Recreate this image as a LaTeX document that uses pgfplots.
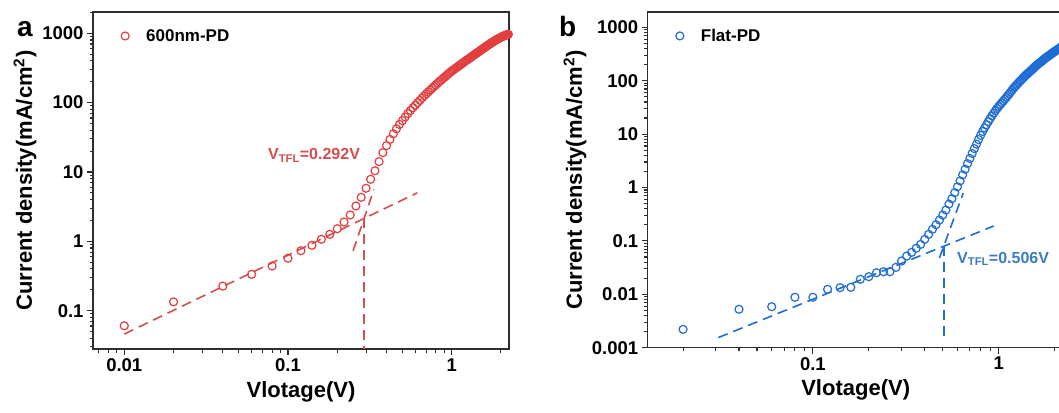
\documentclass[border=0pt]{standalone}
\usepackage{fontspec}
\setmainfont{Liberation Sans}
\usepackage{pgfplots}
\usepackage{pgfplotstable}
\pgfplotsset{compat=1.18}
\definecolor{cred}{RGB}{226,62,62}
\definecolor{credl}{RGB}{212,78,78}
\definecolor{cblue}{RGB}{30,108,212}
\definecolor{cbluet}{RGB}{58,124,196}
\definecolor{axgray}{RGB}{45,45,45}

\pgfplotstableread{
V J
0.01 0.0605
0.02 0.134
0.04 0.226
0.06 0.334
0.08 0.44
0.10 0.569
0.12 0.732
0.14 0.875
0.16 1.07
0.18 1.26
0.20 1.52
0.22 1.90
0.24 2.40
0.26 3.23
0.28 4.31
0.30 5.82
0.32 7.85
0.34 10.4
0.36 14.1
0.38 19.0
0.40 24.0
0.42 29.5
0.44 35.5
0.46 42
0.48 48.5
0.50 55
0.52 62
0.54 69.5
0.56 77
0.58 84.5
0.60 92
0.62 100
0.64 108
0.66 117
0.68 125.5
0.70 134
0.72 143
0.74 152
0.76 161.5
0.78 171
0.80 180
0.82 190
0.84 200
0.86 210
0.88 220
0.90 230
0.92 241
0.94 252
0.96 263
0.98 274
1.00 285
1.02 295
1.04 305
1.06 315
1.08 325
1.10 335
1.12 346
1.14 357
1.16 368
1.18 379
1.20 390
1.22 401
1.24 412
1.26 423
1.28 434
1.30 445
1.32 457
1.34 469
1.36 481
1.38 493
1.40 505
1.42 517
1.44 529
1.46 541
1.48 553
1.50 565
1.52 578
1.54 591
1.56 604
1.58 617
1.60 630
1.62 643
1.64 656
1.66 669
1.68 682
1.70 695
1.72 708
1.74 721
1.76 734
1.78 747
1.80 760
1.82 772
1.84 784
1.86 796
1.88 808
1.90 820
1.92 831
1.94 842
1.96 853
1.98 864
2.00 875
2.02 885
2.04 895
2.06 905
2.08 915
2.10 925
2.12 932
2.14 939
2.16 946
2.18 953
2.20 960
2.22 965
}\dataA

\pgfplotstableread{
V J
0.02 0.00221
0.04 0.00524
0.06 0.00586
0.08 0.00879
0.10 0.0088
0.12 0.0124
0.14 0.0133
0.16 0.0135
0.18 0.0191
0.20 0.0214
0.22 0.0254
0.24 0.0265
0.26 0.0265
0.28 0.032
0.30 0.042
0.32 0.052
0.34 0.061
0.36 0.0727
0.38 0.086
0.40 0.107
0.42 0.133
0.44 0.165
0.46 0.201
0.48 0.246
0.50 0.305
0.52 0.379
0.54 0.49
0.56 0.617
0.58 0.80
0.60 1.03
0.62 1.33
0.64 1.72
0.66 2.2
0.68 2.8
0.70 3.5
0.72 4.35
0.74 5.35
0.76 6.5
0.78 7.9
0.80 9.5
0.82 11.2
0.84 13.0
0.86 15.0
0.88 17.2
0.90 19.5
0.92 22
0.94 24.6
0.96 27.3
0.98 30.1
1.00 33
1.02 35.7
1.04 38.6
1.06 41.7
1.08 45.1
1.10 48.7
1.12 52.6
1.14 56.8
1.16 61.4
1.18 66.4
1.20 72
1.22 76.5
1.24 81.3
1.26 86.3
1.28 91.6
1.30 97.1
1.32 102.7
1.34 108.6
1.36 114.6
1.38 120.8
1.40 127
1.42 132.5
1.44 138.3
1.46 144.4
1.48 150.7
1.50 157.3
1.52 164.2
1.54 171.3
1.56 178.8
1.58 186.6
1.60 195
1.62 201.6
1.64 208.3
1.66 215.3
1.68 222.6
1.70 230
1.72 237.7
1.74 245.7
1.76 254
1.78 262.5
1.80 271
1.82 278
1.84 285.6
1.86 293.2
1.88 301
1.90 309
1.92 317.3
1.94 325.8
1.96 334.5
1.98 343.4
2.00 352.6
2.02 360
2.04 368
2.06 376
2.08 385
2.10 393
2.12 402
2.14 411
2.16 420
2.18 429
2.20 438
2.22 448
2.24 458
}\dataB

\begin{document}
\begin{tikzpicture}
\useasboundingbox (0pt,0pt) rectangle (1059pt,412pt);

\begin{axis}[
  scale only axis,
  xmode=log, ymode=log,
  tick align=outside,
  tick pos=left,
  major tick length=6pt,
  minor tick length=3.5pt,
  every tick/.style={line width=1.1pt, axgray},
  axis line style={line width=1.4pt, axgray},
  ticklabel style={font=\fontsize{18.5}{20}\selectfont\bfseries},
  xlabel={Vlotage(V)},
  ylabel={Current density(mA/cm\textsuperscript{2})},
  label style={font=\fontsize{22}{24}\selectfont\bfseries},
  at={(93pt,63pt)}, anchor=south west,
  width=416pt, height=337pt,
  xmin=0.00644, xmax=2.24, ymin=0.028, ymax=2027,
  xtick={0.01,0.1,1}, xticklabels={0.01,0.1,1},
  minor xtick={0.007,0.008,0.009,0.02,0.03,0.04,0.05,0.06,0.07,0.08,0.09,0.2,0.3,0.4,0.5,0.6,0.7,0.8,0.9,2},
  ytick={0.1,1,10,100,1000}, yticklabels={0.1,1,10,100,1000},
  minor ytick={0.03,0.04,0.05,0.06,0.07,0.08,0.09,0.2,0.3,0.4,0.5,0.6,0.7,0.8,0.9,2,3,4,5,6,7,8,9,20,30,40,50,60,70,80,90,200,300,400,500,600,700,800,900,2000},
  x label style={at={(axis description cs:0.5,-0.1276)}, anchor=center},
  y label style={at={(axis description cs:-0.1635,0.5)}, anchor=center},
  legend style={draw=none, fill=none, at={(axis description cs:0.06,0.9288)}, anchor=west,
    column sep=15pt, font=\fontsize{17}{19}\selectfont\bfseries},
]
\addplot[only marks, mark=o, mark size=4pt, mark options={line width=1.2pt}, color=cred] table[x=V,y=J] {\dataA};
\addlegendentry{600nm-PD}
\addplot[credl, line width=1.6pt, dash pattern=on 10pt off 6pt, forget plot] coordinates {(0.01,0.046) (0.616,5.0)};
\addplot[credl, line width=1.6pt, dash pattern=on 10pt off 6pt, forget plot] coordinates {(0.25,0.73) (0.335,5.6)};
\addplot[credl, line width=1.6pt, dash pattern=on 10pt off 6pt, forget plot] coordinates {(0.292,2.14) (0.292,0.028)};
\node[anchor=base west, text=credl, font=\fontsize{16}{18}\selectfont\bfseries, inner sep=0pt] at (axis cs:0.0755,14.9) {V\textsubscript{TFL}=0.292V};
\end{axis}

\begin{axis}[
  scale only axis,
  xmode=log, ymode=log,
  tick align=outside,
  tick pos=left,
  major tick length=6pt,
  minor tick length=3.5pt,
  every tick/.style={line width=1.1pt, axgray},
  axis line style={line width=1.4pt, axgray},
  ticklabel style={font=\fontsize{18.5}{20}\selectfont\bfseries},
  xlabel={Vlotage(V)},
  ylabel={Current density(mA/cm\textsuperscript{2})},
  label style={font=\fontsize{22}{24}\selectfont\bfseries},
  at={(647.7pt,64.3pt)}, anchor=south west,
  width=416pt, height=335.7pt,
  xmin=0.0129, xmax=2.24, ymin=0.001, ymax=1936,
  xtick={0.1,1}, xticklabels={0.1,1},
  minor xtick={0.02,0.03,0.04,0.05,0.06,0.07,0.08,0.09,0.2,0.3,0.4,0.5,0.6,0.7,0.8,0.9,2},
  ytick={0.001,0.01,0.1,1,10,100,1000}, yticklabels={0.001,0.01,0.1,1,10,100,1000},
  minor ytick={0.002,0.003,0.004,0.005,0.006,0.007,0.008,0.009,0.02,0.03,0.04,0.05,0.06,0.07,0.08,0.09,0.2,0.3,0.4,0.5,0.6,0.7,0.8,0.9,2,3,4,5,6,7,8,9,20,30,40,50,60,70,80,90,200,300,400,500,600,700,800,900},
  x label style={at={(axis description cs:0.5,-0.126)}, anchor=center},
  y label style={at={(axis description cs:-0.1748,0.5)}, anchor=center},
  legend style={draw=none, fill=none, at={(axis description cs:0.06,0.9288)}, anchor=west,
    column sep=15pt, font=\fontsize{17}{19}\selectfont\bfseries},
]
\addplot[only marks, mark=o, mark size=4pt, mark options={line width=1.2pt}, color=cblue] table[x=V,y=J] {\dataB};
\addlegendentry{Flat-PD}
\addplot[cblue, line width=1.6pt, dash pattern=on 10pt off 6pt, forget plot] coordinates {(0.031,0.00155) (0.94,0.19)};
\addplot[cblue, line width=1.6pt, dash pattern=on 10pt off 6pt, forget plot] coordinates {(0.48,0.048) (0.645,0.79)};
\addplot[cblue, line width=1.6pt, dash pattern=on 10pt off 6pt, forget plot] coordinates {(0.506,0.079) (0.506,0.0016)};
\node[anchor=base west, text=cbluet, font=\fontsize{16}{18}\selectfont\bfseries, inner sep=0pt] at (axis cs:0.597,0.038) {V\textsubscript{TFL}=0.506V};
\end{axis}

\node[anchor=base west, inner sep=0pt, font=\fontsize{28}{30}\selectfont\bfseries] at (17pt,375pt) {a};
\node[anchor=base west, inner sep=0pt, font=\fontsize{28}{30}\selectfont\bfseries] at (559pt,375pt) {b};
\end{tikzpicture}
\end{document}
